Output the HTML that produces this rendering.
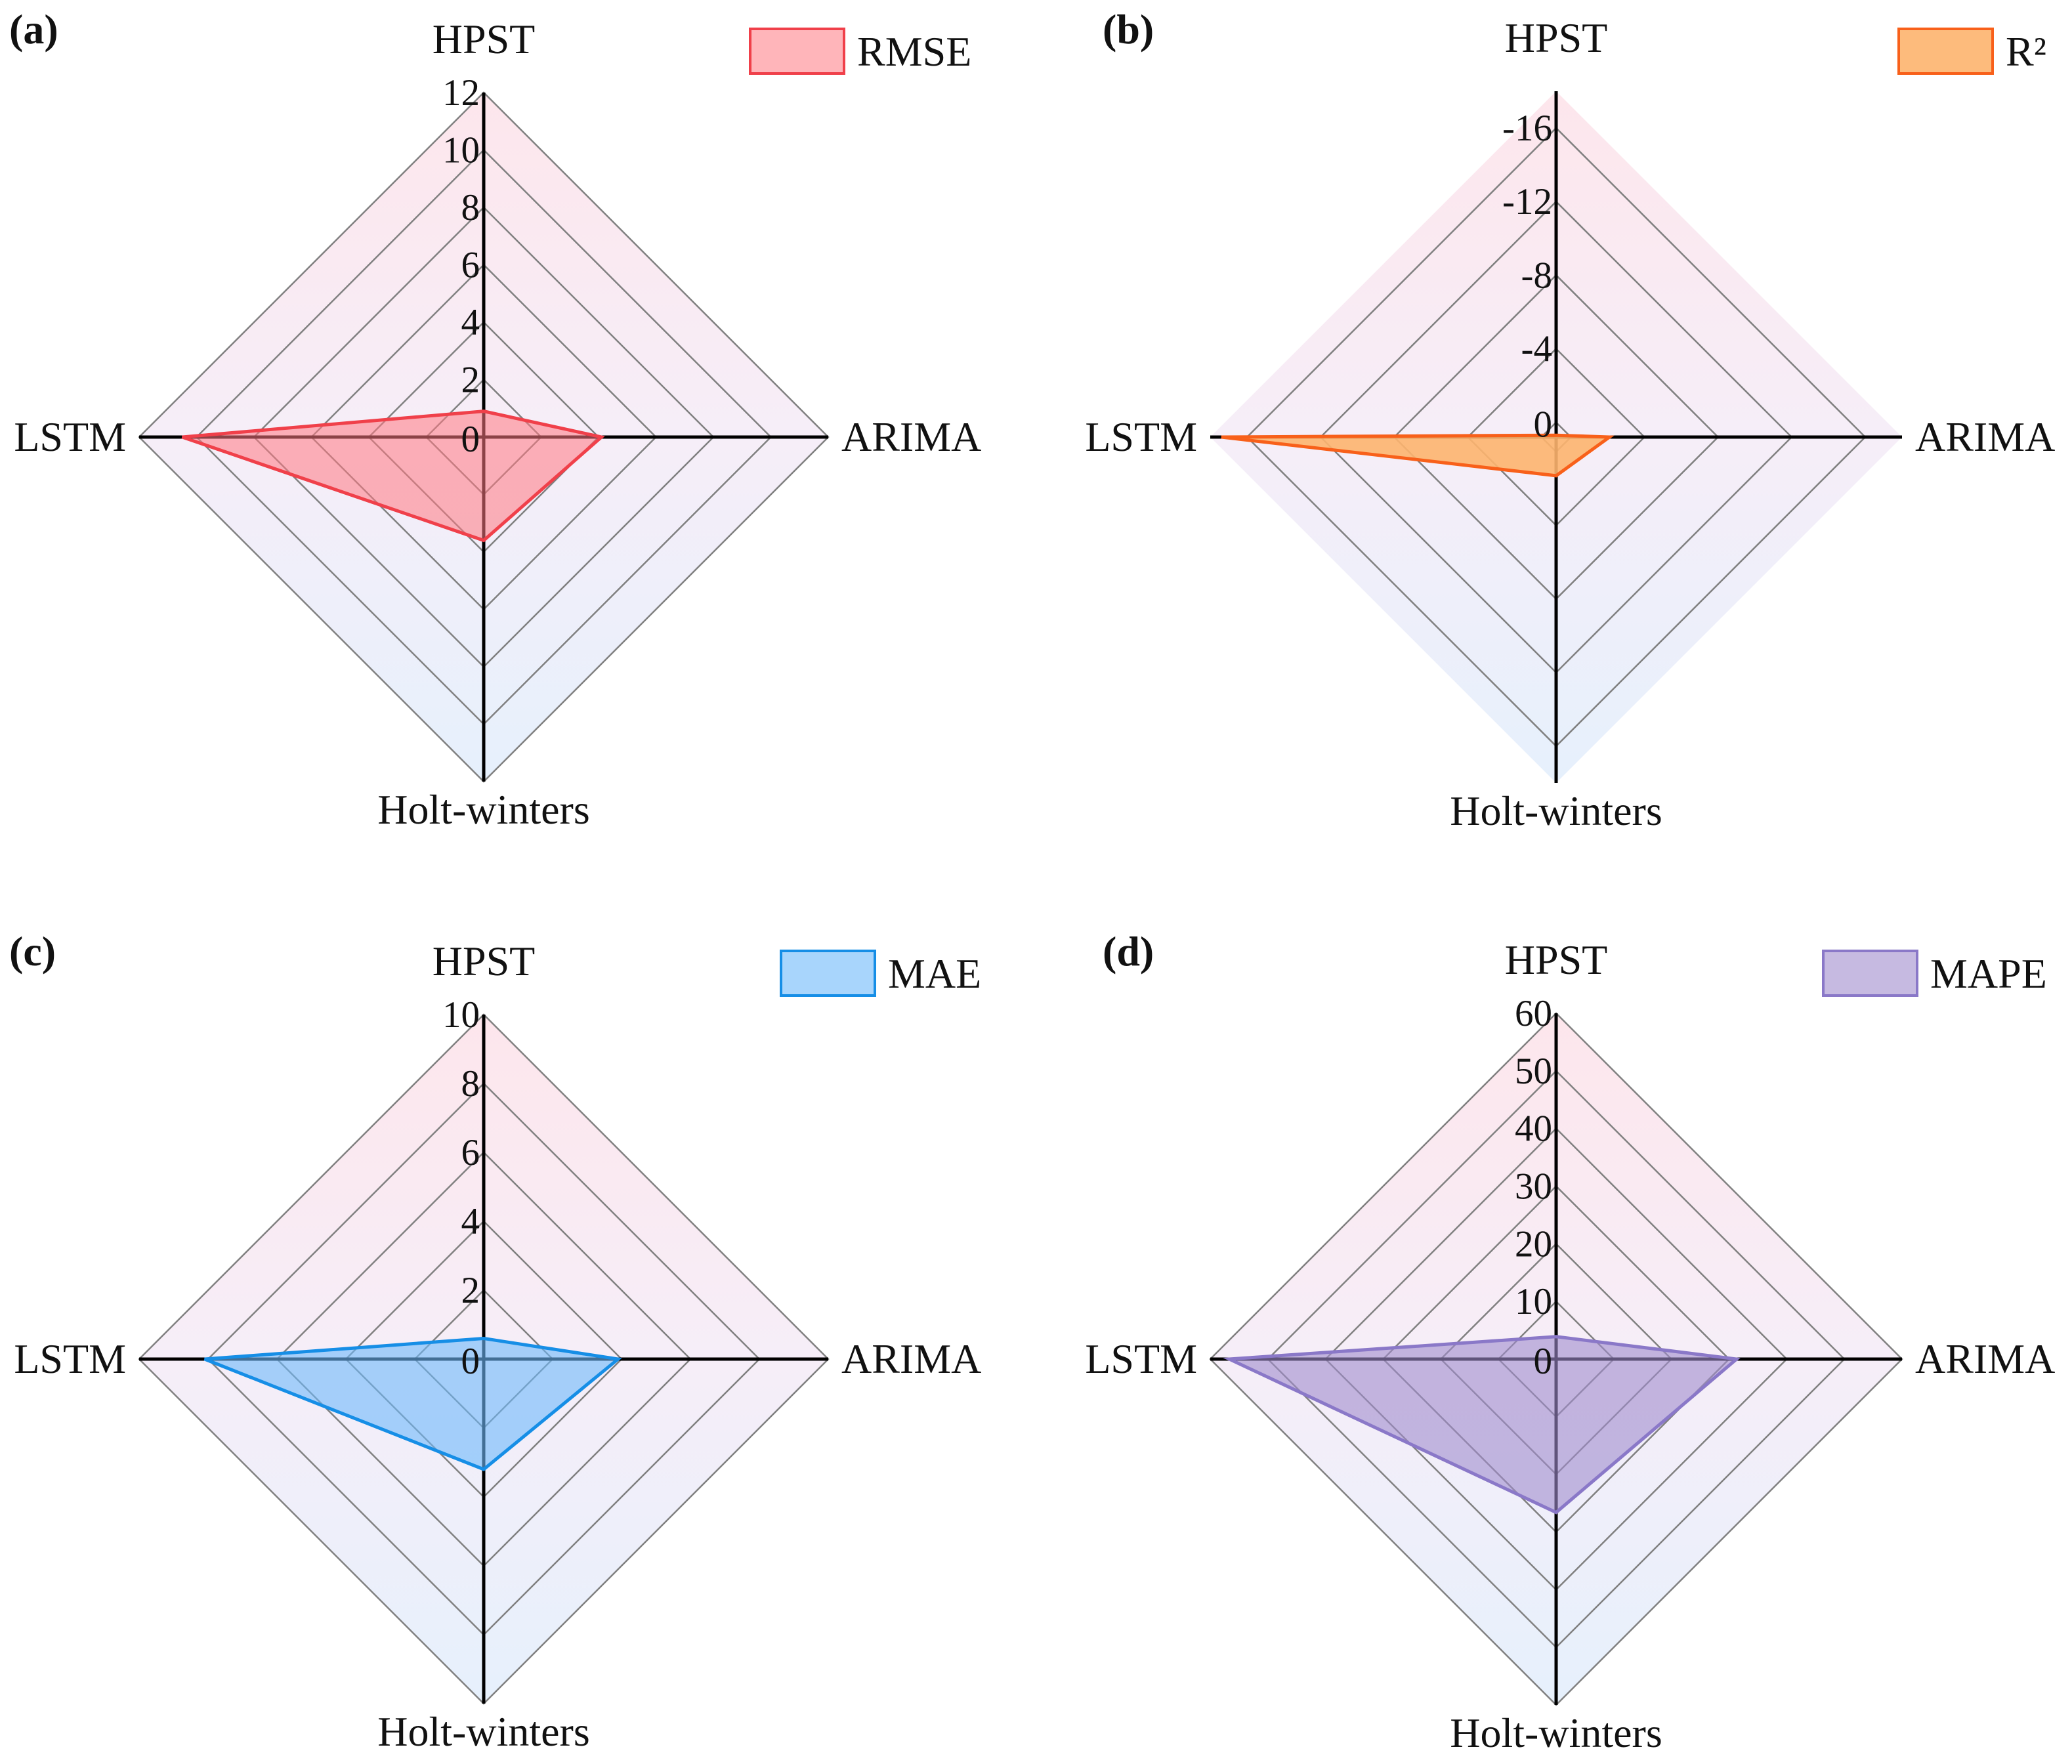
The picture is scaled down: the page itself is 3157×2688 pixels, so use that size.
<!DOCTYPE html>
<html><head><meta charset="utf-8">
<style>
html,body{margin:0;padding:0;background:#fff;}
svg{display:block;font-family:"Liberation Serif",serif;}
</style></head>
<body>
<svg id="fig" width="3157" height="2688" viewBox="0 0 3157 2688" xmlns="http://www.w3.org/2000/svg">
<defs>
<linearGradient id="bg" x1="0" y1="0" x2="0" y2="1">
<stop offset="0" stop-color="#fde6ec"/>
<stop offset="0.5" stop-color="#f6eef8"/>
<stop offset="1" stop-color="#e6f0fc"/>
</linearGradient>
</defs>
</svg>
<script>
const categories = ["HPST","ARIMA","Holt-winters","LSTM"];
const rmseValues = [0.9, 4.1, 3.6, 10.5];
const rmseTicks = ["0","2","4","6","8","10","12"];
const r2Values = [0.7, -2.1, -1.3, -17.4];
const r2Ticks = ["0","-4","-8","-12","-16"];
const maeValues = [0.6, 3.9, 3.2, 8.1];
const maeTicks = ["0","2","4","6","8","10"];
const mapeValues = [3.9, 31.3, 26.6, 56.7];
const mapeTicks = ["0","10","20","30","40","50","60"];

const NS = "http://www.w3.org/2000/svg";
const svg = document.getElementById('fig');
function mk(tag, attrs, parent){
  const e = document.createElementNS(NS, tag);
  for (const k in attrs) e.setAttribute(k, attrs[k]);
  (parent||svg).appendChild(e);
  return e;
}
function txt(s, attrs, parent){ const t = mk('text', attrs, parent); t.textContent = s; return t; }

function panel(cfg){
  const g = mk('g', {});
  
  
  const cx = cfg.cx, cy = cfg.cy, R = cfg.R;
  const rad = v => R * (cfg.center - v) / (cfg.center - cfg.outer);
  const pt = (i, r) => {
    const ang = [[0,-1],[1,0],[0,1],[-1,0]][i];
    return [cx + ang[0]*r, cy + ang[1]*r];
  };
  const diamond = r => [0,1,2,3].map(i => pt(i, r).join(',')).join(' ');
  const bg = mk('polygon', {points: diamond(R), fill: 'url(#bg)'}, g);
  
  
  cfg.ticks.forEach(t => {
    const r = rad(parseFloat(t));
    if (r <= 0.5) return;
    const ring = mk('polygon', {points: diamond(r), fill: 'none', stroke: '#808080', 'stroke-width': 2.5}, g);
    
    
  });
  const ax1 = mk('line', {x1: cx-R, y1: cy, x2: cx+R, y2: cy, stroke: '#000', 'stroke-width': 5}, g);
  
  
  const ax2 = mk('line', {x1: cx, y1: cy-R, x2: cx, y2: cy+R, stroke: '#000', 'stroke-width': 5}, g);
  
  
  const pts = cfg.values.map((v, i) => pt(i, rad(v)).join(',')).join(' ');
  const poly = mk('polygon', {points: pts, fill: cfg.fill, stroke: cfg.stroke, 'stroke-width': 5, 'stroke-linejoin': 'miter'}, g);
  
  
  cfg.ticks.forEach(t => {
    const y = cy - rad(parseFloat(t));
    const tl = txt(t, {x: cx - 6, y: y + (t === "0" ? 22 : 19), 'text-anchor': 'end', 'font-size': 57, fill: '#111'}, g);
    
    
  });
  const cl = [
    [categories[0], cx, cy - R - 60, 'middle'],
    [categories[1], cx + R + 20, cy + 21, 'start'],
    [categories[2], cx, cy + R + 64, 'middle'],
    [categories[3], cx - R - 20, cy + 21, 'end']
  ];
  cl.forEach(c => {
    const t = txt(c[0], {x: c[1], y: c[2], 'text-anchor': c[3], 'font-size': 64, fill: '#111'}, g);
    
    
  });
  const pl = txt(cfg.letter, {x: cfg.lx, y: cy - 600, 'font-size': 64, 'font-weight': 'bold', fill: '#111'}, g);
  
  
  const lg = mk('g', {}, g);
  
  
  const lr = mk('rect', {x: cfg.legX, y: cy - 622, width: 143, height: 68, fill: cfg.fill, stroke: cfg.stroke, 'stroke-width': 4}, lg);
  
  
  const lt = txt(cfg.legend, {x: cfg.legX + 163, y: cy - 566, 'font-size': 64, fill: '#111'}, lg);
  
  
}

panel({key:'rmse', cx:737, cy:666, R:525, center:0, outer:12, values:rmseValues, ticks:rmseTicks,
  fill:'rgba(255,120,130,0.55)', stroke:'#f0404a', letter:'(a)', lx:14, legX:1143, legend:'RMSE'});
panel({key:'r2', cx:2371, cy:666, R:527, center:0.8, outer:-18, values:r2Values, ticks:r2Ticks,
  fill:'rgba(253,180,110,0.9)', stroke:'#f8601a', letter:'(b)', lx:1680, legX:2893, legend:'R²'});
panel({key:'mae', cx:737, cy:2071, R:525, center:0, outer:10, values:maeValues, ticks:maeTicks,
  fill:'rgba(110,185,250,0.6)', stroke:'#168ee6', letter:'(c)', lx:14, legX:1190, legend:'MAE'});
panel({key:'mape', cx:2371, cy:2071, R:527, center:0, outer:60, values:mapeValues, ticks:mapeTicks,
  fill:'rgba(160,140,205,0.6)', stroke:'#8a78c8', letter:'(d)', lx:1680, legX:2778, legend:'MAPE'});
</script>
</body></html>
